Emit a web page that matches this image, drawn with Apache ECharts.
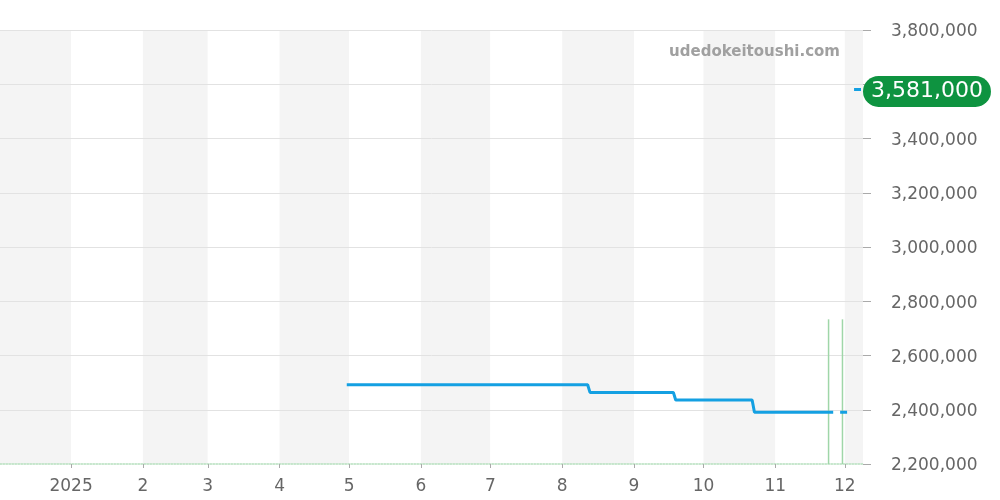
<!DOCTYPE html>
<html>
<head>
<meta charset="utf-8">
<script src="https://cdn.jsdelivr.net/npm/echarts@6/dist/echarts.min.js"></script>
<style>html,body{margin:0;padding:0;background:#fff}#c{width:1000px;height:500px}</style>
</head>
<body>
<div id="c"></div>
<script>
// Price (step) series: [date, value], null = gap
const priceDates = ['2025-04-30','2025-08-12','2025-08-13','2025-09-18','2025-09-19','2025-10-22','2025-10-23','2025-11-26','2025-11-27','2025-11-29','2025-12-02','2025-12-03','2025-12-05','2025-12-08'];
const priceValues = [2492000,2492000,2464000,2464000,2436000,2436000,2391000,2391000,null,2391000,2391000,null,3581000,3581000];
// Volume bars
const volDates = ['2025-11-24','2025-11-30'];
const volValues = [1,1];
const xMin = '2024-12-01 15:00';
const xMax = '2025-12-08 13:00';
const yMin = 2200000, yMax = 3800000, yStep = 200000;
const watermark = 'udedokeitoushi.com';

const fmt = v => Math.round(v).toString().replace(/\B(?=(\d{3})+(?!\d))/g, ',');
const gridColors = ['rgba(0,0,0,0)', '#e2e2e2', '#e2e2e2', '#e2e2e2', '#e2e2e2', '#e2e2e2', '#e2e2e2', '#e2e2e2', '#e2e2e2'];
const chart = echarts.init(document.getElementById('c'));
chart.setOption({
  animation: false,
  backgroundColor: '#fff',
  grid: {left: 0, right: 137, top: 30, bottom: 36},
  graphic: [{
    type: 'text', x: 840, y: 52, z: 100,
    style: {text: watermark, fill: '#a0a0a0', font: 'bold 15px "DejaVu Sans"', align: 'right', verticalAlign: 'middle', textAlign: 'right', textVerticalAlign: 'middle'}
  }],
  xAxis: {
    type: 'time', z: 0,
    min: xMin, max: xMax,
    minInterval: 28 * 86400000,
    maxInterval: 31 * 86400000,
    axisLine: {show: true, lineStyle: {color: '#b5dfbd', type: 'dotted', width: 1.5}},
    axisTick: {show: true, length: 4, lineStyle: {color: '#aaa'}},
    axisLabel: {
      color: '#666', fontSize: 17, margin: 14, fontFamily: 'DejaVu Sans',
      formatter: function (val) {
        const d = new Date(val);
        return d.getMonth() === 0 ? String(d.getFullYear()) : String(d.getMonth() + 1);
      }
    },
    splitLine: {show: false},
    splitArea: {show: true, areaStyle: {color: ['#f4f4f4', '#ffffff']}}
  },
  yAxis: [{
    type: 'value', position: 'right', z: 1,
    min: yMin, max: yMax, interval: yStep,
    axisLine: {show: false},
    axisTick: {show: true, length: 8, lineStyle: {color: '#aaa'}},
    axisLabel: {
      color: '#666', fontSize: 17, margin: 28, fontFamily: 'DejaVu Sans',
      formatter: v => '{a|' + fmt(v) + '}',
      rich: {a: {color: '#666', fontSize: 17, fontFamily: 'DejaVu Sans', padding: [4, 0, 0, 0]}}
    },
    splitLine: {show: true, lineStyle: {color: gridColors}}
  }, {
    type: 'value', min: 0, max: 3, show: false, splitLine: {show: false}
  }],
  series: [{
    type: 'bar', yAxisIndex: 1, z: 3,
    data: volDates.map((d, i) => [d, volValues[i]]),
    barWidth: 1.5,
    itemStyle: {color: '#9fd6a8'},
    silent: true
  }, {
    type: 'line', z: 4,
    data: priceDates.map((d, i) => [d, priceValues[i] === null ? '-' : priceValues[i]]),
    showSymbol: false,
    connectNulls: false,
    lineStyle: {color: '#14a0e2', width: 3},
    itemStyle: {color: '#14a0e2'},
    endLabel: {
      show: true, distance: 2, offset: [0, 2],
      formatter: p => fmt(p.value[1]),
      color: '#fff', backgroundColor: '#0e9340', borderRadius: 16,
      padding: [5, 8, 4, 8], fontSize: 22, fontFamily: 'DejaVu Sans'
    }
  }]
});
</script>
</body>
</html>
